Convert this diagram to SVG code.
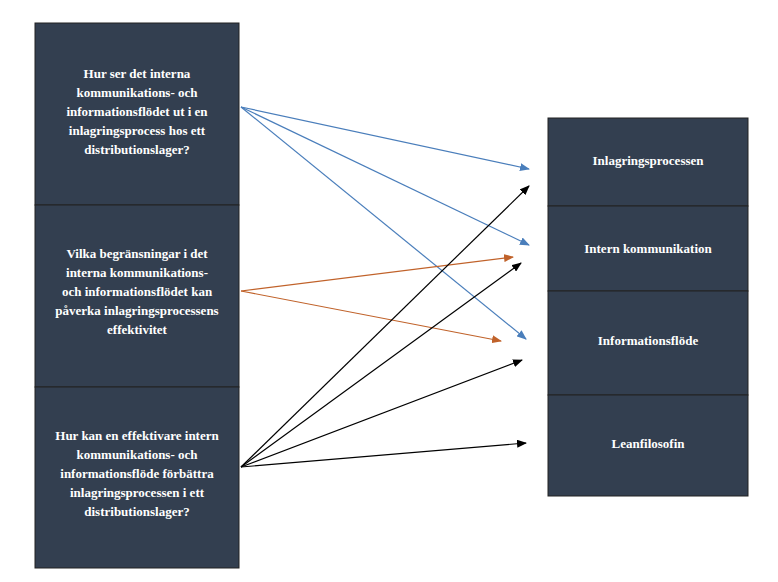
<svg xmlns="http://www.w3.org/2000/svg" width="778" height="582" viewBox="0 0 778 582">
<style>
.b{fill:#333f50;stroke:#222;stroke-width:1}
.t{fill:#fff;font-family:"Liberation Serif",serif;font-weight:bold;font-size:13px;text-anchor:middle}
.bl{stroke:#4a7ebb;stroke-width:1.2;fill:none;marker-end:url(#mb)}
.or{stroke:#c0622a;stroke-width:1.2;fill:none;marker-end:url(#mo)}
.bk{stroke:#000;stroke-width:1.2;fill:none;marker-end:url(#mk)}
</style>
<defs>
<marker id="mb" markerWidth="10" markerHeight="8" refX="9" refY="4" orient="auto" markerUnits="userSpaceOnUse"><path d="M0,0 L10,4 L0,8 z" fill="#4a7ebb"/></marker>
<marker id="mo" markerWidth="10" markerHeight="8" refX="9" refY="4" orient="auto" markerUnits="userSpaceOnUse"><path d="M0,0 L10,4 L0,8 z" fill="#c0622a"/></marker>
<marker id="mk" markerWidth="10" markerHeight="8" refX="9" refY="4" orient="auto" markerUnits="userSpaceOnUse"><path d="M0,0 L10,4 L0,8 z" fill="#000"/></marker>
</defs>
<rect width="778" height="582" fill="#fff"/>
<g id="q1"><rect class="b" x="35" y="23" width="204" height="182"/>
<text class="t" x="137" y="78">Hur ser det interna</text>
<text class="t" x="137" y="97">kommunikations- och</text>
<text class="t" x="137" y="116">informationsflödet ut i en</text>
<text class="t" x="137" y="135">inlagringsprocess hos ett</text>
<text class="t" x="137" y="154">distributionslager?</text></g>
<g id="q2"><rect class="b" x="35" y="205" width="204" height="182"/>
<text class="t" x="137" y="258">Vilka begränsningar i det</text>
<text class="t" x="137" y="277">interna kommunikations-</text>
<text class="t" x="137" y="296">och informationsflödet kan</text>
<text class="t" x="137" y="315">påverka inlagringsprocessens</text>
<text class="t" x="137" y="334">effektivitet</text></g>
<g id="q3"><rect class="b" x="35" y="387" width="204" height="181"/>
<text class="t" x="137" y="440">Hur kan en effektivare intern</text>
<text class="t" x="137" y="459">kommunikations- och</text>
<text class="t" x="137" y="478">informationsflöde förbättra</text>
<text class="t" x="137" y="497">inlagringsprocessen i ett</text>
<text class="t" x="137" y="516">distributionslager?</text></g>
<g id="r1"><rect class="b" x="548" y="118" width="200" height="88"/><text class="t" x="648" y="165">Inlagringsprocessen</text></g>
<g id="r2"><rect class="b" x="548" y="206" width="200" height="85"/><text class="t" x="648" y="253">Intern kommunikation</text></g>
<g id="r3"><rect class="b" x="548" y="291" width="200" height="104"/><text class="t" x="648" y="345">Informationsflöde</text></g>
<g id="r4"><rect class="b" x="548" y="395" width="200" height="101"/><text class="t" x="648" y="448">Leanfilosofin</text></g>
<g id="connectors">
<line class="bl" x1="241" y1="107" x2="529" y2="169"/>
<line class="bl" x1="241" y1="107" x2="529" y2="245"/>
<line class="bl" x1="241" y1="107" x2="526" y2="339"/>
<line class="or" x1="241" y1="291" x2="513" y2="257"/>
<line class="or" x1="241" y1="291" x2="501" y2="341"/>
<line class="bk" x1="241" y1="467" x2="529" y2="186"/>
<line class="bk" x1="241" y1="467" x2="521" y2="263"/>
<line class="bk" x1="241" y1="467" x2="522" y2="360"/>
<line class="bk" x1="241" y1="467" x2="526" y2="443"/>
</g>
</svg>
